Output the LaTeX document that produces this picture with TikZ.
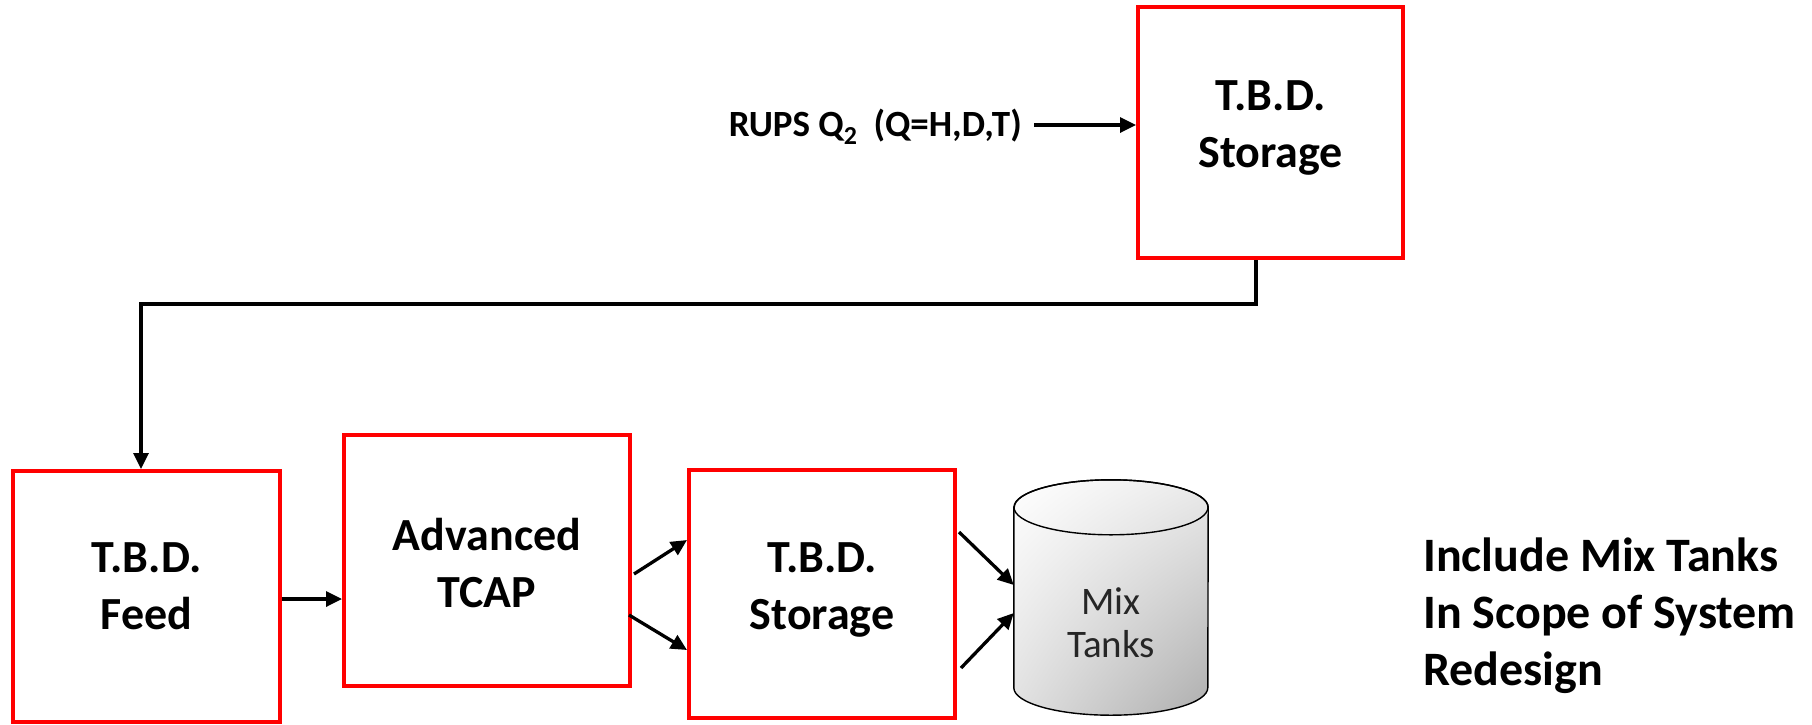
\documentclass[tikz,border=0pt]{standalone}
\usepackage{fontspec}
\setmainfont{Carlito}
\usetikzlibrary{arrows.meta,calc,shadings}

\begin{document}
\begin{tikzpicture}[x=1pt,y=1pt,
  redbox/.style={draw=red, line width=4pt, inner sep=0pt},
  boxlabel/.style={inner sep=0pt, align=center, text depth=0pt,
    font=\fontsize{46}{57}\selectfont\bfseries},
  flow/.style={line width=3.3pt, -{Triangle[length=16pt,width=15pt]}},
  tankline/.style={draw=black, line width=1.4pt},
]
\useasboundingbox (0,0) rectangle (1812,-724);

% process blocks
\node[redbox, minimum width=265pt, minimum height=251pt] (store1) at (1270.5,-132.5) {};
\node[redbox, minimum width=267pt, minimum height=251pt] (feed)   at (146.5,-596.5) {};
\node[redbox, minimum width=286pt, minimum height=251pt] (tcap)   at (487,-560.5) {};
\node[redbox, minimum width=266pt, minimum height=248pt] (store2) at (822,-594) {};

\node[boxlabel] (store1txt) at ($(store1.center)+(0,8)$)  {T.B.D.\\Storage};
\node[boxlabel] (feedtxt)   at ($(feed.center)+(0,10)$)   {T.B.D.\\Feed};
\node[boxlabel] (tcaptxt)   at ($(tcap.center)+(0,-2)$)   {Advanced\\TCAP};
\node[boxlabel] (store2txt) at ($(store2.center)+(0,7.5)$) {T.B.D.\\Storage};

% mix tank cylinder
\node[minimum width=194pt, minimum height=235pt, inner sep=0pt] (mix) at (1111,-597.5) {};
\shadedraw[tankline, upper left=white, upper right=black!8, lower left=black!12, lower right=black!32]
  ($(mix.north west)+(0,-27.5)$) -- ($(mix.south west)+(0,27.5)$)
  arc[start angle=180, end angle=360, x radius=97, y radius=27.5]
  -- ($(mix.north east)+(0,-27.5)$)
  arc[start angle=0, end angle=180, x radius=97, y radius=27.5] -- cycle;
\draw[tankline] ($(mix.north)+(0,-27.5)$) ellipse[x radius=97, y radius=27.5];
\node[inner sep=0pt, align=center, text depth=0pt, text=black!85,
  font=\fontsize{39}{43}\selectfont] (mixtxt) at ($(mix.center)+(0,-25)$) {Mix\\Tanks};

% input stream
\node[inner sep=0pt, anchor=east, font=\fontsize{37}{44}\selectfont\bfseries] (rups)
  at (1022,-127) {RUPS Q\textsubscript{2}\hspace{16pt}(Q=H,D,T)};

% side note
\node[inner sep=0pt, anchor=west, align=left, text depth=0pt,
  font=\fontsize{48}{57}\selectfont\bfseries] (note) at (1423,-612)
  {Include Mix Tanks\\In Scope of System\\Redesign};

% connectors
\draw[flow] ($(rups.east)+(12,2)$) -- ($(rups.east -| store1.west)+(0,2)$);
\draw[flow] ($(store1.south)+(-14.5,0)$) -- ++(0,-44) -| ($(feed.north)+(-5.5,0)$);
\draw[flow] ($(feed.east)+(0,-2.5)$) -- ($(tcap.west)+(0,-38.5)$);
\draw[flow] ($(tcap.east)+(2,-13.5)$) -- ($(store2.west)+(0,54)$);
\draw[flow] ($(tcap.east)+(-3,-54.5)$) -- ($(store2.west)+(0,-56)$);
\draw[flow] ($(store2.east)+(2,62)$) -- ($(mix.west)+(0,12.5)$);
\draw[flow] ($(store2.east)+(4,-74)$) -- ($(mix.west)+(0,-15.5)$);
\end{tikzpicture}
\end{document}
